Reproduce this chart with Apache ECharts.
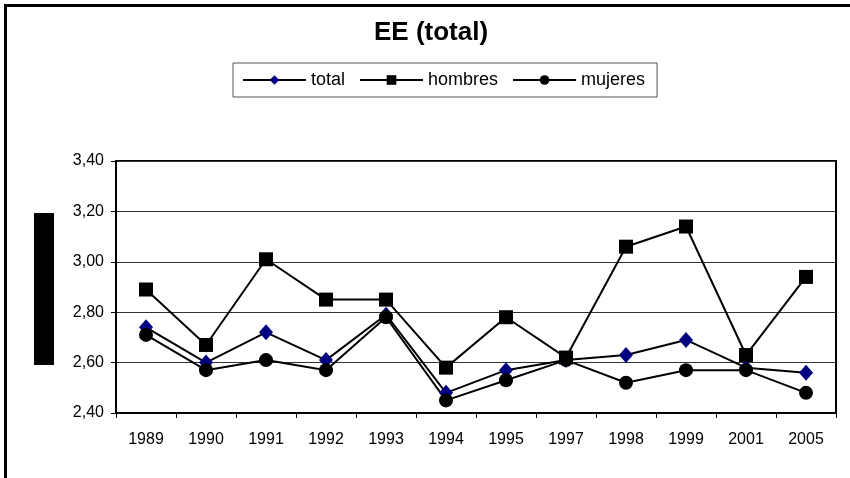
<!DOCTYPE html>
<html>
<head>
<meta charset="utf-8">
<script src="https://cdn.jsdelivr.net/npm/echarts@6/dist/echarts.min.js"></script>
<style>
  html, body { margin: 0; padding: 0; background: #fff; }
  #chart { width: 850px; height: 478px; }
</style>
</head>
<body>
<div id="chart"></div>
<script>
// Survey years on the category axis
const years = ['1989', '1990', '1991', '1992', '1993', '1994', '1995', '1997', '1998', '1999', '2001', '2005'];

// EE values per group
const total   = [2.74, 2.60, 2.72, 2.61, 2.79, 2.48, 2.57, 2.61, 2.63, 2.69, 2.58, 2.56];
const hombres = [2.89, 2.67, 3.01, 2.85, 2.85, 2.58, 2.78, 2.62, 3.06, 3.14, 2.63, 2.94];
const mujeres = [2.71, 2.57, 2.61, 2.57, 2.78, 2.45, 2.53, 2.61, 2.52, 2.57, 2.57, 2.48];

// Value axis range
const yMin = 2.4, yMax = 3.4, yStep = 0.2;

const FONT = '"Liberation Sans", Arial, sans-serif';
const chart = echarts.init(document.getElementById('chart'), null, { renderer: 'canvas' });

function lineSeries(name, data, symbol, color, size) {
  return {
    name: name,
    type: 'line',
    data: data,
    symbol: symbol,
    symbolSize: size,
    showAllSymbol: true,
    lineStyle: { color: '#000', width: 2 },
    itemStyle: { color: color, borderWidth: 0 },
    emphasis: { disabled: true },
    animation: false
  };
}

chart.setOption({
  backgroundColor: '#fff',
  animation: false,
  textStyle: { fontFamily: FONT },
  title: {
    text: 'EE (total)',
    left: 374,
    top: 20,
    textStyle: { fontFamily: FONT, fontSize: 26, fontWeight: 'bold', color: '#000' },
    padding: 0
  },
  legend: {
    left: 233,
    top: 63,
    padding: [8, 12, 8, 9],
    itemGap: 14,
    itemWidth: 63,
    itemHeight: 12,
    borderColor: '#555',
    borderWidth: 1,
    textStyle: { fontFamily: FONT, fontSize: 18, color: '#000' },
    data: ['total', 'hombres', 'mujeres']
  },
  grid: {
    left: 116, right: 14, top: 161, bottom: 65,
    show: true, borderColor: '#000', borderWidth: 2, backgroundColor: 'transparent'
  },
  xAxis: {
    type: 'category',
    data: years,
    boundaryGap: true,
    axisLine: { lineStyle: { color: '#000', width: 2 } },
    axisTick: { show: true, length: 5, inside: false, lineStyle: { color: '#000', width: 1 } },
    axisLabel: { color: '#000', fontSize: 16, fontFamily: FONT, margin: 19 }
  },
  yAxis: {
    type: 'value',
    min: yMin, max: yMax, interval: yStep,
    axisLine: { show: true, lineStyle: { color: '#000', width: 2 } },
    axisTick: { show: true, length: 5, lineStyle: { color: '#000', width: 1 } },
    splitLine: { show: true, lineStyle: { color: '#333', width: 1 } },
    axisLabel: {
      color: '#000', fontSize: 16, fontFamily: FONT, margin: 12,
      formatter: v => v.toFixed(2).replace('.', ',')
    }
  },
  series: [
    lineSeries('total', total, 'diamond', '#000080', [14, 16]),
    lineSeries('hombres', hombres, 'rect', '#000', 14),
    lineSeries('mujeres', mujeres, 'circle', '#000', 14)
  ],
  graphic: [
    // outer frame (top and left edges)
    { type: 'rect', left: 4, top: 4, shape: { width: 846, height: 3 }, style: { fill: '#000' }, silent: true },
    { type: 'rect', left: 4, top: 4, shape: { width: 3, height: 474 }, style: { fill: '#000' }, silent: true },
    // value-axis title block
    { type: 'rect', left: 34, top: 213, shape: { width: 20, height: 152 }, style: { fill: '#000' }, silent: true }
  ]
});
</script>
</body>
</html>
